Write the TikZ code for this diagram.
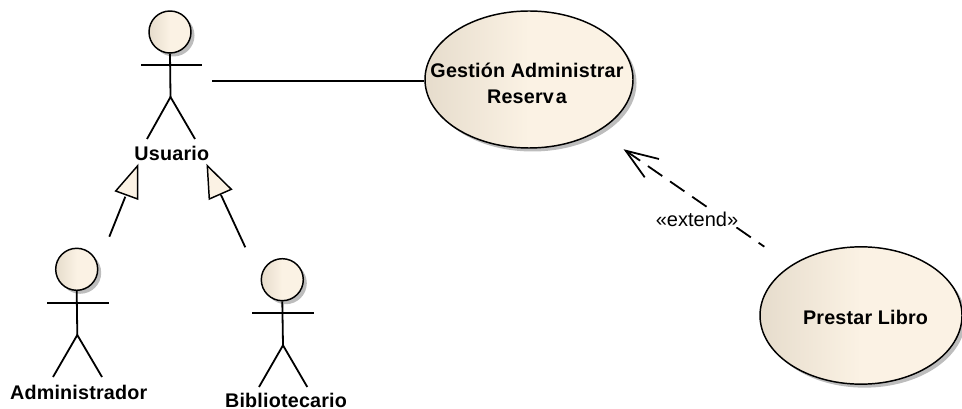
\documentclass[tikz,border=0pt]{standalone}
\usepackage{fontspec}
\setmainfont[LetterSpace=1]{Liberation Sans}
\newfontfamily\plainsans{Liberation Sans}
\usetikzlibrary{shapes.geometric,arrows.meta}
\definecolor{fillL}{HTML}{E6DCCC}
\definecolor{fillR}{HTML}{FBF2E4}
\definecolor{shadowc}{HTML}{BDBDBD}
\tikzset{
  x=0.75pt,y=-0.75pt,
  line/.style={draw=black,line width=1.35pt},
  thinl/.style={draw=black,line width=1.1pt},
  shadedfill/.style={left color=fillL,right color=fillR,middle color=fillR},
  headnode/.style={circle,thinl,shadedfill,minimum size=31.5pt,inner sep=0pt},
  headshadow/.style={circle,fill=shadowc,minimum size=31.5pt,inner sep=0pt},
  usecase/.style={ellipse,thinl,shadedfill,inner sep=0pt},
  usecaseshadow/.style={ellipse,fill=shadowc,inner sep=0pt},
  boldlabel/.style={font=\fontsize{14.8}{19.3}\selectfont\bfseries,inner sep=0pt,align=center},
  gentri/.style={draw=black,line width=1.1pt,fill=fillR,line join=miter},
}
\begin{document}
\begin{tikzpicture}
\useasboundingbox (0,0) rectangle (962,409);
% Usuario
\node[headshadow] (ush) at (173.5,35.5) {};
\node[headnode] (uh) at (170,32) {};
\coordinate (ual) at (141,65); \coordinate (uar) at (202,65);
\coordinate (ucr) at (170.5,97); \coordinate (ull) at (147,139); \coordinate (ulr) at (195,139);
\draw[line] (uh.south) -- (ucr);
\draw[line] (ual) -- (uar);
\draw[line] (ull) -- (ucr) -- (ulr);
\node[boldlabel] (ulab) at (171.8,153) {Usuario};
% Administrador
\node[headshadow] (ash) at (80.2,272.8) {};
\node[headnode] (ah) at (76.7,269.3) {};
\coordinate (aal) at (47,302.7); \coordinate (aar) at (108.5,302.7);
\coordinate (acr) at (77.3,335); \coordinate (all) at (53,377); \coordinate (alr) at (102,377);
\draw[line] (ah.south) -- (acr);
\draw[line] (aal) -- (aar);
\draw[line] (all) -- (acr) -- (alr);
\node[boldlabel] (alab) at (78.7,392.7) {Administrador};
% Bibliotecario
\node[headshadow] (bsh) at (285.8,283.2) {};
\node[headnode] (bh) at (282.3,279.7) {};
\coordinate (bal) at (252.3,312.7); \coordinate (bar) at (314,312.7);
\coordinate (bcr) at (283,345.3); \coordinate (bll) at (259,387); \coordinate (blr) at (307.3,387);
\draw[line] (bh.south) -- (bcr);
\draw[line] (bal) -- (bar);
\draw[line] (bll) -- (bcr) -- (blr);
\node[boldlabel] (blab) at (286,400.3) {Bibliotecario};
% Generalisations
\coordinate (g1s) at (109.3,236.7); \coordinate (g1e) at (125.3,196.7);
\coordinate (g1t) at (137.7,165.7); \coordinate (g1a) at (115.7,191); \coordinate (g1b) at (137.7,199);
\draw[line] (g1s) -- (g1e);
\draw[gentri] (g1t) -- (g1a) -- (g1b) -- cycle;
\coordinate (g2s) at (245.3,247.3); \coordinate (g2e) at (221,195);
\coordinate (g2t) at (207.3,165.7); \coordinate (g2a) at (231.3,189.3); \coordinate (g2b) at (209.3,199);
\draw[line] (g2s) -- (g2e);
\draw[gentri] (g2t) -- (g2a) -- (g2b) -- cycle;
% Use cases
\node[usecaseshadow,minimum width=156pt,minimum height=102.75pt] (gsh) at (532.5,83) {};
\node[usecase,minimum width=156pt,minimum height=102.75pt] (g) at (529,79.5) {};
\node[boldlabel] (gt) at (527,83) {Gestión Administrar\\Reserv\kern1.5pt a};
\node[usecaseshadow,minimum width=151.5pt,minimum height=103pt] (psh) at (864.5,319) {};
\node[usecase,minimum width=151.5pt,minimum height=103pt] (p) at (861,315.5) {};
\node[boldlabel] (pt) at (865.5,317) {Prestar Libro};
% Association
\coordinate (assoc) at (212,81);
\draw[line] (assoc) -- (g.west |- assoc);
% Extend
\coordinate (es) at (764.3,246.7); \coordinate (et) at (625.7,150.7);
\coordinate (eb1) at (659,159); \coordinate (eb2) at (644.7,177.3);
\draw[line,dash pattern=on 13.1pt off 7.1pt,dash phase=7.9pt] (es) -- (et);
\draw[line,line join=miter] (eb1) -- (et) -- (eb2);
\node[fill=white,inner xsep=0.5pt,inner ysep=0.5pt,font=\plainsans\fontsize{15}{18}\selectfont] (el) at (697,219) {«extend»};
\end{tikzpicture}
\end{document}
